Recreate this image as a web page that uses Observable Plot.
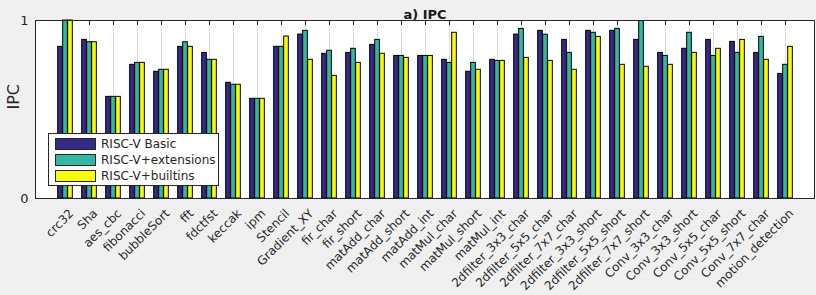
<!DOCTYPE html>
<html>
<head>
<meta charset="utf-8">
<script src="https://cdn.jsdelivr.net/npm/d3@7"></script>
<script src="https://cdn.jsdelivr.net/npm/@observablehq/plot@0.6"></script>
<style>
  html, body { margin: 0; padding: 0; background: #f0f0f0; }
  #wrap { position: relative; width: 816px; height: 295px; font-family: "DejaVu Sans", sans-serif; color: #262626; }
  #legend { position: absolute; left: 48px; top: 133px; width: 169px; height: 51px; background: #fff; border: 1px solid #262626; box-sizing: content-box; }
  .item { position: absolute; left: 6px; height: 12px; display: flex; align-items: center; font-size: 12px; white-space: nowrap; }
  .sw { width: 39px; height: 10px; border: 1px solid #262626; margin-right: 5px; }
</style>
</head>
<body>
<div id="wrap"></div>
<script>
const categories = ["crc32","Sha","aes_cbc","fibonacci","bubbleSort","fft","fdctfst","keccak","ipm","Stencil","Gradient_XY","fir_char","fir_short","matAdd_char","matAdd_short","matAdd_int","matMul_char","matMul_short","matMul_int","2dfilter_3x3_char","2dfilter_5x5_char","2dfilter_7x7_char","2dfilter_3x3_short","2dfilter_5x5_short","2dfilter_7x7_short","Conv_3x3_char","Conv_3x3_short","Conv_5x5_char","Conv_5x5_short","Conv_7x7_char","motion_detection"];
const basic =     [0.852,0.891,0.571,0.751,0.712,0.852,0.818,0.650,0.560,0.852,0.921,0.813,0.818,0.863,0.801,0.801,0.779,0.712,0.779,0.921,0.942,0.891,0.942,0.942,0.891,0.818,0.841,0.891,0.880,0.818,0.700];
const extensions =[1.000,0.878,0.571,0.762,0.723,0.878,0.779,0.639,0.560,0.852,0.942,0.830,0.841,0.891,0.801,0.801,0.762,0.762,0.773,0.953,0.920,0.818,0.931,0.953,0.997,0.801,0.931,0.801,0.818,0.908,0.751];
const builtins =  [1.000,0.878,0.571,0.762,0.723,0.852,0.779,0.639,0.560,0.910,0.779,0.689,0.762,0.813,0.790,0.801,0.931,0.723,0.773,0.790,0.773,0.723,0.908,0.751,0.740,0.751,0.818,0.841,0.891,0.779,0.852];
const seriesNames = ["RISC-V Basic","RISC-V+extensions","RISC-V+builtins"];
const seriesColors = ["#352a87","#33b8a1","#f9fb0e"];
const yTicks = [0, 1];
const title = "a) IPC";
const yLabel = "IPC";

const seriesValues = [basic, extensions, builtins];
const rows = seriesValues.map(vals => categories.map((c, i) => ({category: c, value: vals[i]})));
const offsets = [-5, 0, 5];
const FF = "DejaVu Sans";

const chart = Plot.plot({
  width: 816,
  height: 295,
  marginLeft: 35,
  marginRight: 2,
  marginTop: 20,
  marginBottom: 97,
  style: {background: "transparent", fontFamily: FF, fontSize: "12px", color: "#262626", overflow: "visible"},
  x: {domain: categories, paddingInner: 0, paddingOuter: 0.5, label: null},
  y: {domain: [0, 1], label: null},
  marks: [
    Plot.frame({fill: "white", stroke: null}),
    Plot.gridX(categories, {stroke: "#dcdcdc", strokeOpacity: 1}),
    Plot.tickX(categories, {x: d => d, insetBottom: 173, stroke: "#262626"}),
    Plot.tickX(categories, {x: d => d, insetTop: 173, stroke: "#262626"}),
    ...rows.map((data, k) => Plot.barY(data, {
      x: "category", y: "value",
      fill: seriesColors[k], stroke: "#000", strokeWidth: 1,
      insetLeft: 9.67, insetRight: 9.67, dx: offsets[k]
    })),
    Plot.frame({stroke: "#262626", strokeWidth: 1}),
    Plot.axisX({tickRotate: -45, tickSize: 0, tickPadding: 13, dx: 6, fontSize: 12, fontFamily: FF, fill: "#262626", label: null}),
    Plot.axisY({ticks: yTicks, tickFormat: d => String(d), tickSize: 0, tickPadding: 7, fontSize: 13, fontFamily: FF, fill: "#262626", label: null}),
    Plot.text([yLabel], {frameAnchor: "left", dx: -22, rotate: -90, fontSize: 16, fontFamily: FF, fill: "#262626"}),
    Plot.text([title], {frameAnchor: "top", dy: -11, fontSize: 13, fontFamily: FF, fontWeight: "bold", fill: "#1a1a1a"})
  ]
});

const wrap = document.getElementById("wrap");
wrap.appendChild(chart);

const legend = document.createElement("div");
legend.id = "legend";
seriesNames.forEach((name, k) => {
  const item = document.createElement("div");
  item.className = "item";
  item.style.top = (4 + k * 16) + "px";
  const sw = document.createElement("div");
  sw.className = "sw";
  sw.style.background = seriesColors[k];
  const t = document.createElement("span");
  t.textContent = name;
  item.appendChild(sw);
  item.appendChild(t);
  legend.appendChild(item);
});
wrap.appendChild(legend);
</script>
</body>
</html>
